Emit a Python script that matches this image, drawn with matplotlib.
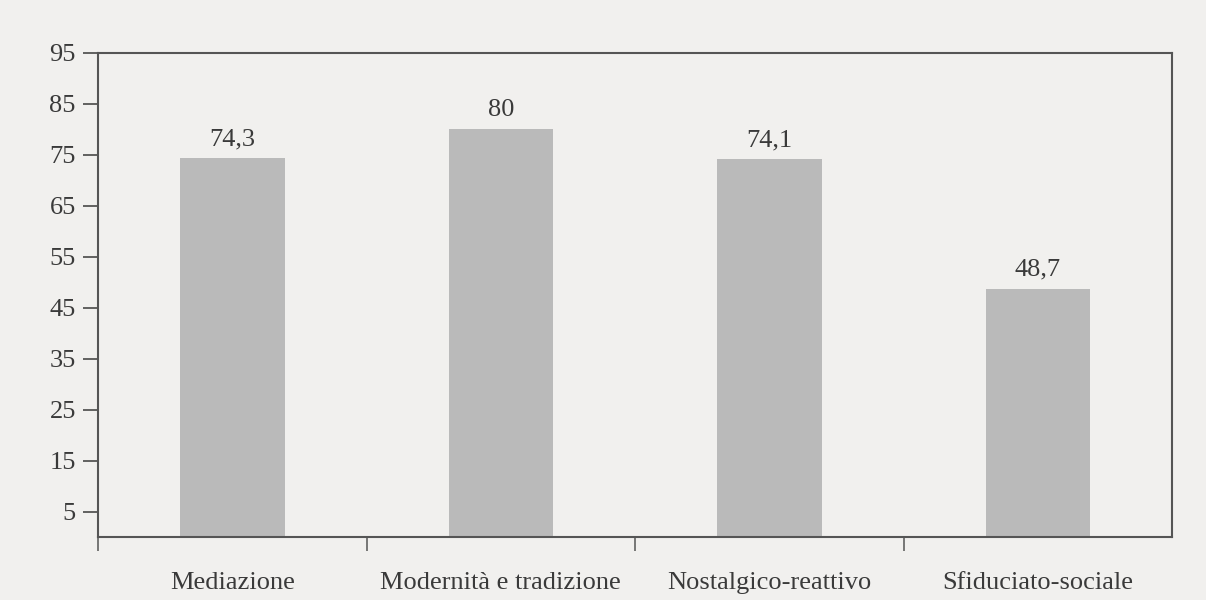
import matplotlib.pyplot as plt
import numpy as np

# data
categories = ["Mediazione", "Modernità e tradizione", "Nostalgico-reattivo", "Sfiduciato-sociale"]
values = [74.3, 80, 74.1, 48.7]
value_labels = ["74,3", "80", "74,1", "48,7"]
yticks = [5, 15, 25, 35, 45, 55, 65, 75, 85, 95]

paper = "#f1f0ee"
ink = "#3a3a3a"
bar_color = "#bababa"

plt.rcParams["font.family"] = ["Liberation Serif", "DejaVu Serif"]

fig = plt.figure(figsize=(12.06, 6), dpi=100, facecolor=paper)
ax = fig.add_axes([0.0813, 0.105, 0.8907, 0.807], facecolor=paper)

x = np.arange(len(categories))
bars = ax.bar(x, values, width=0.39, color=bar_color, zorder=2)

for b, lab in zip(bars, value_labels):
    ax.text(b.get_x() + b.get_width() / 2, b.get_height() + 1.6, lab,
            ha="center", va="bottom", fontsize=19, color=ink)

ax.set_xlim(-0.5, len(categories) - 0.5)
ax.set_ylim(0, 95)

ax.set_yticks(yticks)
ax.set_yticklabels([str(t) for t in yticks], fontsize=19, color=ink)
ax.tick_params(axis="y", direction="out", length=11, width=1.3, color="#555555", pad=5)

# category labels centred, ticks at the boundaries between categories
ax.set_xticks(x)
ax.set_xticklabels(categories, fontsize=19, color=ink)
ax.tick_params(axis="x", which="major", length=0, pad=25)
ax.set_xticks([-0.5, 0.5, 1.5, 2.5], minor=True)
ax.tick_params(axis="x", which="minor", direction="out", length=10, width=1.1, color="#555555")

for s in ax.spines.values():
    s.set_color("#555555")
    s.set_linewidth(1.5)

fig.savefig("out.png", dpi=100, facecolor=paper)
